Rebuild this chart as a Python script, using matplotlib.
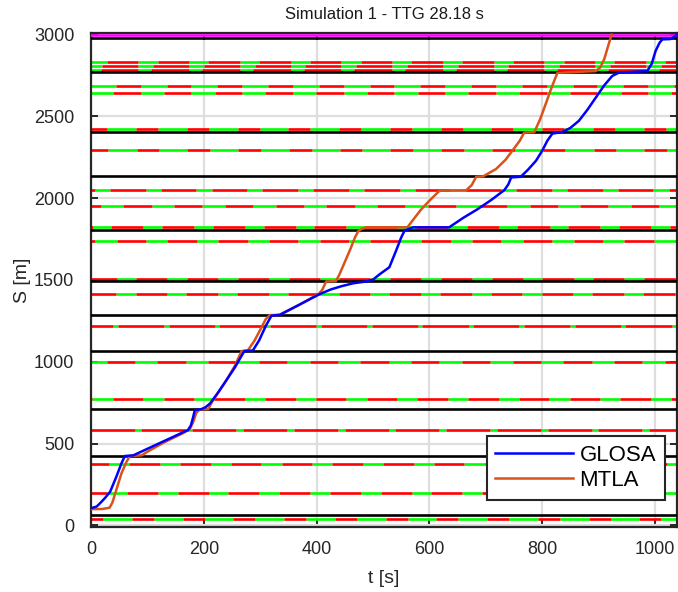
import numpy as np
import matplotlib
matplotlib.use("Agg")
import matplotlib.pyplot as plt

plt.rcParams['font.family'] = ['Liberation Sans', 'DejaVu Sans']

# ---- data ----
title = "Simulation 1 - TTG 28.18 s"

glosa_t = [0, 10, 16, 25, 34, 45, 54, 60, 75, 100, 130, 160, 172, 177, 181, 184, 196, 203, 211,
           225, 240, 255, 265, 272, 287, 298, 310, 320, 335, 370, 405, 425, 444, 465, 488, 500,
           511, 529, 541, 550, 556, 571, 635, 660, 685, 710, 733, 740, 745, 762, 775, 789, 800,
           809, 818, 836, 850, 865, 880, 895, 910, 924, 936, 986, 994, 1001, 1008, 1013, 1027,
           1033, 1039]
glosa_s = [105, 115, 135, 168, 206, 298, 379, 424, 428, 468, 516, 564, 583, 610, 660, 704, 711,
           722, 745, 810, 887, 965, 1025, 1066, 1069, 1130, 1220, 1282, 1287, 1350, 1413, 1442,
           1462, 1480, 1491, 1502, 1533, 1578, 1680, 1760, 1802, 1822, 1822, 1880, 1932, 1990,
           2050, 2085, 2127, 2131, 2175, 2229, 2290, 2351, 2395, 2405, 2430, 2473, 2540, 2615,
           2690, 2747, 2768, 2777, 2820, 2900, 2950, 2971, 2973, 2985, 3000]

mtla_t = [0, 20, 33, 38, 43, 54, 63, 69, 90, 100, 130, 160, 175, 181, 187, 193, 208, 213, 225,
          240, 255, 267, 278, 290, 300, 310, 317, 334, 370, 404, 410, 417, 434, 440, 450, 460,
          468, 474, 480, 488, 561, 570, 585, 600, 618, 665, 675, 683, 695, 718, 735, 747, 760,
          768, 786, 796, 806, 817, 827, 895, 903, 910, 916, 923]
mtla_s = [99, 100, 108, 140, 196, 318, 389, 424, 428, 450, 508, 558, 587, 630, 690, 709, 711,
          745, 810, 887, 975, 1066, 1069, 1130, 1195, 1262, 1285, 1287, 1350, 1416, 1440, 1491,
          1493, 1530, 1610, 1690, 1760, 1800, 1812, 1822, 1822, 1863, 1930, 1985, 2046, 2048,
          2080, 2131, 2133, 2178, 2235, 2290, 2350, 2401, 2404, 2480, 2574, 2680, 2767, 2777,
          2800, 2850, 2920, 3000]

# stop lines (black)
stop_lines = [2978, 2770, 2404, 2136, 1805, 1494, 1285, 1069, 711, 427, 61]
# destination (magenta)
goal_line = 2996

# traffic-light lines: position, green start (s, within cycle), green duration (s)
tl_pos = [2835, 2807, 2782, 2689, 2642, 2425, 2293, 2049, 1951, 1825, 1738,
          1506, 1416, 1221, 998, 770, 585, 378, 195, 37]
tl_green_start = [84, 84, 84, 88, 88, 29, 31, 7, 17.5, 3, 7.5,
                  45.5, 45, 39.5, 77.6, 2.6, 77.5, 32, 28.5, 21.5]
tl_green_dur = [34, 26, 23, 46, 41, 51, 50, 27, 40, 33, 38,
                35, 34, 8, 40, 36, 12, 36, 35, 51]
cycle = 90

x_ticks = [0, 200, 400, 600, 800, 1000]
y_ticks = [0, 500, 1000, 1500, 2000, 2500, 3000]

# ---- figure ----
fig = plt.figure(figsize=(6.78, 5.92), dpi=100)
ax = fig.add_axes([91/678, 65/592, 586/678, 494/592])

xmax = glosa_t[-1]
ax.set_xlim(0, xmax)
ax.set_ylim(-10, 3010)

ax.set_xticks(x_ticks)
ax.set_yticks(y_ticks)
ax.grid(True, color='#dedede', linewidth=1.6, zorder=0)
ax.set_axisbelow(True)

# traffic lights
GREEN = '#00ff00'
RED = '#ff0000'
ks = range(-2, int(xmax // cycle) + 3)
for pos, gs, gd in zip(tl_pos, tl_green_start, tl_green_dur):
    g0 = [gs + cycle * k for k in ks]
    g1 = [gs + gd + cycle * k for k in ks]
    r1 = [gs + cycle * (k + 1) for k in ks]
    ax.hlines([pos] * len(g0), g0, g1, colors=GREEN, linewidth=1.9,
              capstyle='butt', zorder=2)
    ax.hlines([pos] * len(g1), g1, r1, colors=RED, linewidth=1.9,
              capstyle='butt', zorder=2)

for s in stop_lines:
    ax.axhline(s, color='black', linewidth=1.9, zorder=3)
ax.axhline(goal_line, color='#ff00ff', linewidth=1.9, zorder=3)

ax.plot(glosa_t, glosa_s, color='#0000ff', linewidth=1.8, label='GLOSA', zorder=5)
ax.plot(mtla_t, mtla_s, color='#d95319', linewidth=1.8, label='MTLA', zorder=4)

# styling (MATLAB-like)
for sp in ax.spines.values():
    sp.set_linewidth(1.6)
    sp.set_color('#262626')
ax.tick_params(direction='in', length=5, width=1.4, top=True, right=True,
               labelsize=13, colors='#262626')
ax.tick_params(axis='y', pad=12)
ax.tick_params(axis='x', pad=10)
ax.set_title(title, fontsize=12, color='#1a1a1a', pad=10)
ax.set_xlabel('t [s]', fontsize=14, color='#262626', labelpad=9)
ax.set_ylabel('S [m]', fontsize=14, color='#262626', labelpad=2)

leg = ax.legend(loc='lower right', bbox_to_anchor=(0.9795, 0.0547), fontsize=16,
                frameon=True, fancybox=False, framealpha=1, edgecolor='#262626',
                handlelength=3.5, borderpad=0.4, labelspacing=0.2, handletextpad=0.28,
                borderaxespad=0)
leg.get_frame().set_linewidth(1.5)
leg.set_zorder(10)

fig.savefig('out.png', dpi=100)
